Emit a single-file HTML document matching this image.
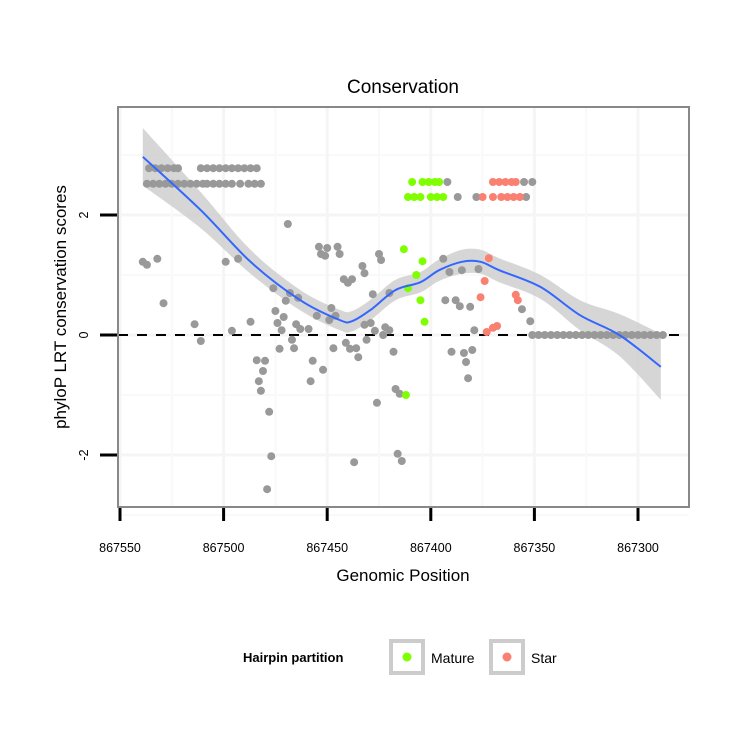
<!DOCTYPE html>
<html><head><meta charset="utf-8"><style>
body{margin:0;background:#fff;font-family:"Liberation Sans",sans-serif}
</style></head><body>
<svg id="chart" width="750" height="750" xmlns="http://www.w3.org/2000/svg" font-family="Liberation Sans, sans-serif">
<rect width="750" height="750" fill="#fff"/>
<text x="403" y="93" font-size="19" text-anchor="middle">Conservation</text>
<g id="grid"></g>
<g id="band"></g>
<line x1="118" x2="689" y1="335" y2="335" stroke="#000" stroke-width="2" stroke-dasharray="10,9"/>
<g id="points"></g>
<g id="smooth"></g>
<rect x="118" y="107" width="571" height="400" fill="none" stroke="#888" stroke-width="2"/>
<g id="axes"></g>
<text x="403" y="581" font-size="17" text-anchor="middle">Genomic Position</text>
<text transform="translate(66,307) rotate(-90)" font-size="17" text-anchor="middle">phyloP LRT conservation scores</text>
<g>
<text x="243" y="662" font-size="13" font-weight="bold">Hairpin partition</text>
<rect x="391" y="641" width="32" height="32" fill="#fff" stroke="#ccc" stroke-width="4"/>
<circle cx="407" cy="657" r="4.5" fill="#7fff00"/>
<text x="431" y="663" font-size="14">Mature</text>
<rect x="491" y="641" width="32" height="32" fill="#fff" stroke="#ccc" stroke-width="4"/>
<circle cx="507" cy="657" r="4.5" fill="#fa8072"/>
<text x="531" y="663" font-size="14">Star</text>
</g>
</svg>
<script>
const greyPos=[867539,867537,867532,867529,867514,867511,867499,867493,867496,867487,867469,867476,867468,867464,867470,867475,867471,867474,867472,867465,867463,867459,867467,867466,867473,867484,867480,867481,867483,867482,867478,867477,867479,867457,867452,867458,867455,867448,867446,867449,867447,867441,867439,867436,867435,867454,867450,867453,867451,867445,867444,867442,867440,867438,867433,867432,867428,867432,867429,867427,867431,867425,867424,867420,867422,867420,867423,867418,867426,867417,867415,867437,867416,867414,867394,867391,867385,867377,867393,867388,867386,867381,867379,867390,867384,867380,867383,867382,867356,867352,
867536,867533,867530,867527,867524,867522,867511,867508,867505,867502,867499,867496,867493,867490,867487,867484,
867537,867534,867531,867528,867525,867522,867519,867516,867513,867510,867508,867505,867502,867499,867496,867492,867488,867485,867482,
867392,867355,867351,867387,867378,867354,
867351,867348,867345,867342,867339,867336,867333,867330,867327,867324,867321,867318,867315,867312,867309,867306,867303,867300,867297,867294,867291,867288];
const greyScore=[1.22,1.17,1.27,0.53,0.18,-0.10,1.22,1.27,0.07,0.22,1.85,0.78,0.70,0.62,0.57,0.40,0.30,0.20,0.08,0.18,0.10,0.10,-0.08,-0.22,-0.23,-0.42,-0.43,-0.60,-0.77,-0.93,-1.28,-2.02,-2.57,-0.43,-0.58,-0.77,0.32,0.45,0.32,0.25,-0.22,-0.13,-0.23,-0.22,-0.37,1.47,1.45,1.35,1.32,1.47,1.35,0.93,0.87,0.93,1.15,1.03,0.68,0.17,0.20,0.07,-0.08,1.35,1.25,0.70,0.13,0.08,0.00,-0.28,-1.13,-0.90,-0.98,-2.12,-1.98,-2.10,1.27,1.05,1.08,1.10,0.58,0.58,0.48,0.47,0.08,-0.28,-0.30,-0.25,-0.45,-0.72,0.43,0.23,
2.78,2.78,2.78,2.78,2.78,2.78,2.78,2.78,2.78,2.78,2.78,2.78,2.78,2.78,2.78,2.78,
2.52,2.52,2.52,2.52,2.52,2.52,2.52,2.52,2.52,2.52,2.52,2.52,2.52,2.52,2.52,2.52,2.52,2.52,2.52,
2.55,2.55,2.55,2.30,2.30,2.30,
0,0,0,0,0,0,0,0,0,0,0,0,0,0,0,0,0,0,0,0,0,0];
const maturePos=[867409,867404,867401,867398,867396,867411,867408,867405,867400,867397,867394,867413,867404,867407,867411,867405,867403,867412];
const matureScore=[2.55,2.55,2.55,2.55,2.55,2.30,2.30,2.30,2.30,2.30,2.30,1.43,1.23,1.00,0.78,0.58,0.22,-1.00];
const starPos=[867370,867367,867364,867361,867359,867375,867370,867366,867363,867360,867357,867372,867374,867376,867359,867358,867373,867370,867368];
const starScore=[2.55,2.55,2.55,2.55,2.55,2.30,2.30,2.30,2.30,2.30,2.30,1.28,0.90,0.63,0.67,0.58,0.05,0.12,0.15];
const fitPos=[867539,867511,867487,867463,867444,867438,867429,867417,867405,867396,867385,867376,867367,867347,867328,867309,867289];
const fitScore=[2.97,2.08,1.22,0.58,0.25,0.23,0.42,0.75,0.88,1.08,1.22,1.22,1.08,0.80,0.33,0.00,-0.53];
const fitSE=[0.48,0.3,0.2,0.17,0.17,0.17,0.17,0.17,0.17,0.18,0.2,0.2,0.2,0.2,0.25,0.35,0.55];
const xTicks=[867550,867500,867450,867400,867350,867300];
const xTickLabels=["867550","867500","867450","867400","867350","867300"];
const yTicks=[-2,0,2];
const yTickLabels=["-2","0","2"];

const NS="http://www.w3.org/2000/svg";
function X(v){return 120+(867550-v)*2.072;}
function Y(s){return 335-s*60;}
function mk(tag,attrs,parent){const e=document.createElementNS(NS,tag);for(const k in attrs)e.setAttribute(k,attrs[k]);parent.appendChild(e);return e;}
function smoothPath(pts){let d='M'+pts[0][0]+','+pts[0][1];
for(let i=0;i<pts.length-1;i++){const p0=pts[Math.max(0,i-1)],p1=pts[i],p2=pts[i+1],p3=pts[Math.min(pts.length-1,i+2)];
const c1=[p1[0]+(p2[0]-p0[0])/6,p1[1]+(p2[1]-p0[1])/6],c2=[p2[0]-(p3[0]-p1[0])/6,p2[1]-(p3[1]-p1[1])/6];
d+=' C'+c1[0]+','+c1[1]+' '+c2[0]+','+c2[1]+' '+p2[0]+','+p2[1];}return d;}
const grid=document.getElementById('grid');
[-3,-1,1,3].forEach(s=>{const l=mk('line',{x1:118,x2:689,y1:Y(s),y2:Y(s),stroke:'#f9f9f9','stroke-width':2},grid);

});
yTicks.forEach(s=>{const l=mk('line',{x1:118,x2:689,y1:Y(s),y2:Y(s),stroke:'#f5f5f5','stroke-width':3},grid);

});
[867525,867475,867425,867375,867325].forEach(v=>{const l=mk('line',{x1:X(v),x2:X(v),y1:107,y2:507,stroke:'#f9f9f9','stroke-width':2},grid);

});
xTicks.forEach(v=>{const l=mk('line',{x1:X(v),x2:X(v),y1:107,y2:507,stroke:'#f5f5f5','stroke-width':3},grid);

});
// band
const upPts=fitPos.map((p,i)=>[X(p),Y(fitScore[i]+fitSE[i])]);
const dnPts=fitPos.map((p,i)=>[X(p),Y(fitScore[i]-fitSE[i])]).reverse();
const bd=smoothPath(upPts)+' L'+smoothPath(dnPts).slice(1)+' Z';
const band=mk('path',{d:bd,fill:'#c8c8c8','fill-opacity':0.75},document.getElementById('band'));


// points
const pts=document.getElementById('points');
function drawPts(P,S,col,name){P.forEach((p,i)=>{const c=mk('circle',{cx:X(p),cy:Y(S[i]),r:4,fill:col},pts);

});}
drawPts(greyPos,greyScore,'#999999','point-other');
drawPts(maturePos,matureScore,'#7fff00','point-mature');
drawPts(starPos,starScore,'#fa8072','point-star');
// smooth line
const ln=mk('path',{d:smoothPath(fitPos.map((p,i)=>[X(p),Y(fitScore[i])])),fill:'none',stroke:'#3366ff','stroke-width':2,'stroke-linejoin':'round'},document.getElementById('smooth'));


// axes
const ax=document.getElementById('axes');
xTicks.forEach((v,i)=>{const t=mk('line',{x1:X(v),x2:X(v),y1:508,y2:521,stroke:'#000','stroke-width':3},ax);


const tx=mk('text',{x:X(v),y:552,'font-size':12.5,'text-anchor':'middle'},ax);tx.textContent=xTickLabels[i];

});
yTicks.forEach((s,i)=>{const t=mk('line',{x1:100,x2:117,y1:Y(s),y2:Y(s),stroke:'#000','stroke-width':3},ax);


const tx=mk('text',{transform:'translate(88,'+Y(s)+') rotate(-90)','font-size':12.5,'text-anchor':'middle'},ax);tx.textContent=yTickLabels[i];

});
</script>
</body></html>
